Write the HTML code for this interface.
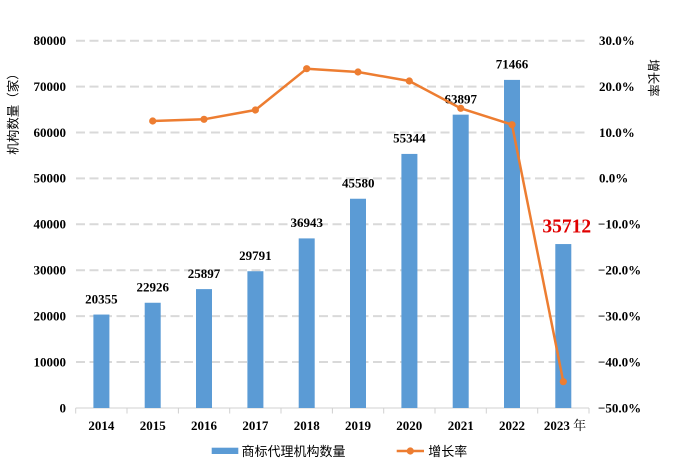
<!DOCTYPE html>
<html><head><meta charset="utf-8"><style>
html,body{margin:0;padding:0;background:#fff;}
svg{display:block;}
.n{font-family:"Liberation Serif","Noto Serif CJK SC",serif;font-weight:bold;font-size:13px;fill:#000;}
.c{font-family:"Liberation Sans","Noto Sans CJK SC",sans-serif;font-size:12.5px;fill:#000;}
</style></head><body>
<svg width="677" height="471" viewBox="0 0 677 471" xmlns="http://www.w3.org/2000/svg">
<rect width="677" height="471" fill="#fff"/>
<g stroke="#d9d9d9" stroke-width="2" stroke-dasharray="9,4.5">
<line x1="76" y1="40.7" x2="589" y2="40.7"/>
<line x1="76" y1="86.6" x2="589" y2="86.6"/>
<line x1="76" y1="132.5" x2="589" y2="132.5"/>
<line x1="76" y1="178.4" x2="589" y2="178.4"/>
<line x1="76" y1="224.3" x2="589" y2="224.3"/>
<line x1="76" y1="270.2" x2="589" y2="270.2"/>
<line x1="76" y1="316.1" x2="589" y2="316.1"/>
<line x1="76" y1="362" x2="589" y2="362"/>
</g>
<g stroke="#d0d0d0" stroke-width="1">
<line x1="75.7" y1="408" x2="589" y2="408"/>
<line x1="75.7" y1="408" x2="75.7" y2="413.5"/>
<line x1="127" y1="408" x2="127" y2="413.5"/>
<line x1="178.4" y1="408" x2="178.4" y2="413.5"/>
<line x1="229.7" y1="408" x2="229.7" y2="413.5"/>
<line x1="281" y1="408" x2="281" y2="413.5"/>
<line x1="332.4" y1="408" x2="332.4" y2="413.5"/>
<line x1="383.7" y1="408" x2="383.7" y2="413.5"/>
<line x1="435" y1="408" x2="435" y2="413.5"/>
<line x1="486.3" y1="408" x2="486.3" y2="413.5"/>
<line x1="537.7" y1="408" x2="537.7" y2="413.5"/>
<line x1="589" y1="408" x2="589" y2="413.5"/>
</g>
<g fill="#5b9bd5">
<rect x="93.4" y="314.55" width="16" height="93.45"/>
<rect x="144.7" y="302.75" width="16" height="105.25"/>
<rect x="196" y="289.11" width="16" height="118.89"/>
<rect x="247.4" y="271.23" width="16" height="136.77"/>
<rect x="298.7" y="238.4" width="16" height="169.6"/>
<rect x="350" y="198.74" width="16" height="209.26"/>
<rect x="401.4" y="153.92" width="16" height="254.08"/>
<rect x="452.7" y="114.65" width="16" height="293.35"/>
<rect x="504" y="79.9" width="16" height="328.1"/>
<rect x="555.3" y="244.05" width="16" height="163.95"/>
</g>
<g class="n" text-anchor="middle">
<text x="101.4" y="303.3">20355</text>
<text x="152.7" y="291.5">22926</text>
<text x="204" y="277.8">25897</text>
<text x="255.4" y="259.9">29791</text>
<text x="306.7" y="227.1">36943</text>
<text x="358.3" y="187.4">45580</text>
<text x="409.4" y="142.6">55344</text>
<text x="460.7" y="103.3">63897</text>
<text x="512" y="68.5">71466</text>
</g>
<text x="566.7" y="232.3" text-anchor="middle" style="font-family:'Liberation Serif',serif;font-weight:bold;font-size:19.5px;fill:#e00000;">35712</text>
<polyline fill="none" stroke="#ed7d31" stroke-width="2.5" stroke-linejoin="round" points="152.7,121 204,119.3 255.4,110 306.7,68.7 358,72 409.3,81 460.7,108.3 512,124.7 563.3,381.7"/>
<g fill="#ed7d31">
<circle cx="152.7" cy="121" r="3.6"/>
<circle cx="204" cy="119.3" r="3.6"/>
<circle cx="255.4" cy="110" r="3.6"/>
<circle cx="306.7" cy="68.7" r="3.6"/>
<circle cx="358" cy="72" r="3.6"/>
<circle cx="409.3" cy="81" r="3.6"/>
<circle cx="460.7" cy="108.3" r="3.6"/>
<circle cx="512" cy="124.7" r="3.6"/>
<circle cx="563.3" cy="381.7" r="3.6"/>
</g>
<g class="n" text-anchor="end">
<text x="66" y="45">80000</text>
<text x="66" y="90.9">70000</text>
<text x="66" y="136.8">60000</text>
<text x="66" y="182.7">50000</text>
<text x="66" y="228.6">40000</text>
<text x="66" y="274.5">30000</text>
<text x="66" y="320.4">20000</text>
<text x="66" y="366.3">10000</text>
<text x="66" y="412.3">0</text>
</g>
<g class="n" text-anchor="start">
<text x="599" y="45">30.0%</text>
<text x="599" y="90.9">20.0%</text>
<text x="599" y="136.8">10.0%</text>
<text x="599" y="182.7">0.0%</text>
<text x="598" y="228.6">−10.0%</text>
<text x="598" y="274.5">−20.0%</text>
<text x="598" y="320.4">−30.0%</text>
<text x="598" y="366.3">−40.0%</text>
<text x="598" y="412.3">−50.0%</text>
</g>
<g class="n" text-anchor="middle">
<text x="101.4" y="430">2014</text>
<text x="152.7" y="430">2015</text>
<text x="204" y="430">2016</text>
<text x="255.4" y="430">2017</text>
<text x="306.7" y="430">2018</text>
<text x="358" y="430">2019</text>
<text x="409.3" y="430">2020</text>
<text x="460.7" y="430">2021</text>
<text x="512" y="430">2022</text>
<text x="565" y="430">2023 <tspan style="font-family:'Noto Serif CJK SC',serif;font-weight:normal;">年</tspan></text>
</g>
<text class="c" transform="translate(17.5,111) rotate(-90)" text-anchor="middle">机构数量（家）</text>
<text class="c" transform="translate(649,78) rotate(90)" text-anchor="middle">增长率</text>
<rect x="211.7" y="447.7" width="26.6" height="6.3" fill="#5b9bd5"/>
<text class="c" x="241.5" y="456" style="font-size:13px;">商标代理机构数量</text>
<line x1="396.7" y1="451" x2="424" y2="451" stroke="#ed7d31" stroke-width="2.5"/>
<circle cx="410.3" cy="451" r="3.6" fill="#ed7d31"/>
<text class="c" x="428.3" y="456" style="font-size:13px;">增长率</text>
</svg>
</body></html>
